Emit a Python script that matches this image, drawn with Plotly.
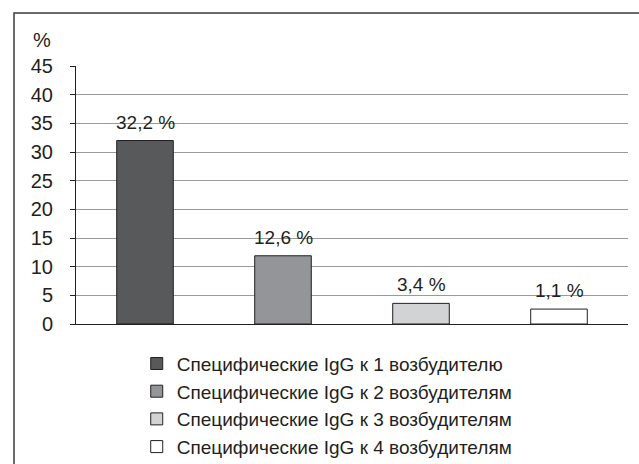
import plotly.graph_objects as go

categories = ["1", "2", "3", "4"]
bar_values = [32.0, 11.9, 3.6, 2.6]
bar_labels = ["32,2 %", "12,6 %", "3,4 %", "1,1 %"]
series_names = [
    "Специфические IgG к 1 возбудителю",
    "Специфические IgG к 2 возбудителям",
    "Специфические IgG к 3 возбудителям",
    "Специфические IgG к 4 возбудителям",
]
bar_colors = ["#58595b", "#939598", "#d1d3d4", "#ffffff"]
y_ticks = [0, 5, 10, 15, 20, 25, 30, 35, 40, 45]

FONT = "Liberation Sans, Arial, sans-serif"
TXT = "#231f20"

fig = go.Figure()
for cat, val, name, col in zip(categories, bar_values, series_names, bar_colors):
    fig.add_trace(go.Bar(
        x=[cat], y=[val], name=name, width=0.41,
        marker=dict(color=col, line=dict(color="#231f20", width=1)),
    ))

for i, (val, lab) in enumerate(zip(bar_values, bar_labels)):
    fig.add_annotation(x=i, y=val, text=lab, showarrow=False,
                       yanchor="bottom", yshift=6,
                       font=dict(family=FONT, size=19, color=TXT))

fig.add_annotation(x=-0.0417, y=1.05, xref="paper", yref="paper", text="%",
                   showarrow=False, xanchor="right", yanchor="bottom",
                   font=dict(family=FONT, size=20, color=TXT))

# outer frame (right and bottom edges fall outside the picture)
fig.add_shape(type="rect", xref="paper", yref="paper",
              x0=-0.1123, x1=1.3, y0=-0.9, y1=1.2054,
              line=dict(color="#3a3a3a", width=1.5), fillcolor="rgba(0,0,0,0)",
              layer="below")

fig.update_layout(
    width=639, height=464,
    margin=dict(l=76, r=11, t=66, b=140, autoexpand=False),
    paper_bgcolor="white", plot_bgcolor="white",
    barmode="overlay",
    showlegend=True,
    legend=dict(x=0.11, y=-0.08, xanchor="left", yanchor="top",
                font=dict(family=FONT, size=19, color=TXT),
                tracegroupgap=0, bgcolor="rgba(0,0,0,0)"),
    xaxis=dict(type="category", range=[-0.5, 3.5], showticklabels=False,
               showgrid=False, showline=True, linecolor="#231f20",
               linewidth=1, ticks="",
               categoryorder="array", categoryarray=categories),
    yaxis=dict(range=[0, 45], tickvals=y_ticks, showgrid=True,
               gridcolor="#9a9a9a", gridwidth=1, showline=True,
               linecolor="#231f20", linewidth=1, ticks="outside",
               ticklen=5, tickcolor="#231f20", ticklabelstandoff=13,
               zeroline=False,
               tickfont=dict(family=FONT, size=20, color=TXT)),
    font=dict(family=FONT, color=TXT),
)

fig.write_html("out.html")
